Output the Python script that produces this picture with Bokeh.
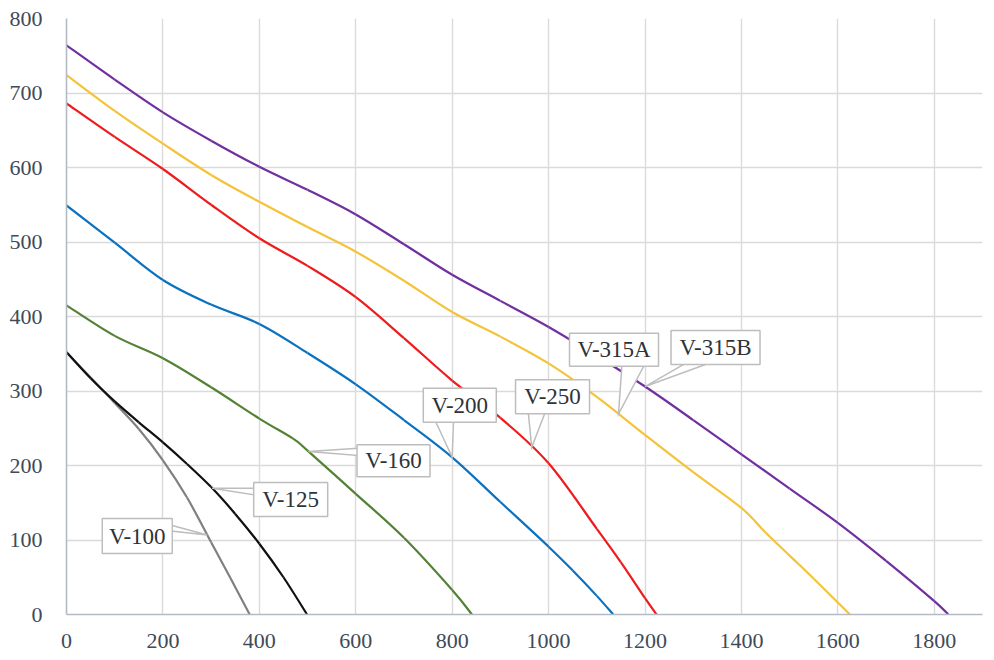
import numpy as np
from bokeh.plotting import figure
from bokeh.models import Range1d, FixedTicker
from bokeh.core.properties import value
from bokeh.embed import file_html
from bokeh.resources import INLINE

# ---------------- data ----------------
x_ticks = [0, 200, 400, 600, 800, 1000, 1200, 1400, 1600, 1800]
y_ticks = [0, 100, 200, 300, 400, 500, 600, 700, 800]

v100_x = [0, 50, 100, 150, 200, 250, 300, 340, 380]
v100_y = [352, 318, 284, 249, 207, 157, 97, 49, 0]

v125_x = [0, 50, 100, 150, 200, 250, 300, 350, 400, 450, 499]
v125_y = [352, 317, 286, 258, 231, 202, 171, 135, 95, 50, 0]

v160_x = [0, 100, 200, 300, 400, 470, 500, 600, 700, 800, 841]
v160_y = [415, 374, 344, 305, 263, 236, 220, 162, 103, 33, 0]

v200_x = [0, 100, 200, 300, 400, 500, 600, 700, 800, 900, 1000, 1050, 1100, 1134]
v200_y = [549, 499, 449, 416, 390, 351, 309, 261, 211, 151, 91, 59, 25, 0]

v250_x = [0, 100, 200, 300, 400, 500, 600, 700, 800, 900, 1000, 1100, 1150, 1200, 1224]
v250_y = [686, 641, 598, 550, 505, 468, 426, 371, 314, 264, 203, 115, 70, 22, 0]

v315a_x = [0, 100, 200, 300, 400, 500, 600, 700, 800, 900, 1000, 1100, 1200, 1300, 1400, 1450, 1500, 1550, 1600, 1625]
v315a_y = [724, 676, 632, 590, 554, 520, 487, 448, 406, 373, 337, 292, 241, 191, 143, 110, 79, 48, 16, 0]

v315b_x = [0, 100, 200, 300, 400, 500, 600, 700, 800, 900, 1000, 1100, 1200, 1300, 1400, 1500, 1600, 1700, 1800, 1829]
v315b_y = [764, 718, 674, 636, 601, 570, 537, 497, 456, 421, 386, 347, 306, 261, 215, 169, 123, 72, 18, 0]

names = ["V-100", "V-125", "V-160", "V-200", "V-250", "V-315A", "V-315B"]
series_x = [v100_x, v125_x, v160_x, v200_x, v250_x, v315a_x, v315b_x]
series_y = [v100_y, v125_y, v160_y, v200_y, v250_y, v315a_y, v315b_y]
colors = ["#808080", "#111111", "#548235", "#0b72c1", "#ee1c1c", "#f4c33a", "#7030a0"]

# callout tip position (x on curve) per series
callout_x = [292, 302, 502, 800, 965, 1145, 1200]

# ---------------- layout (screen px) ----------------
BL, BR, BT, BB = 66, 4, 18, 44
PW, PH = 916, 596
W, H = BL + PW + BR, BT + PH + BB
X0, X1, Y0, Y1 = 0, 1900, 0, 800
box_off = [(-70, -1), (78.6, -11.4), (85, -9.2), (7.6, 52), (20.8, 50.5), (-4.5, 64.2), (70.5, 39)]
box_size = [(70, 35), (74, 34), (73, 32), (73, 34), (74, 34), (89, 33), (89, 34)]
base_pts = [
    [(34, 10.8), (34, 5)],
    [(-36, 11.4), (-36, 4.7)],
    [(-35.5, 12.5), (-35.5, 5.2)],
    [(-24.3, -16), (-6.3, -16)],
    [(-24.2, -16), (-7.5, -16)],
    [(7.9, -15.5), (30.2, -15.5)],
    [(-30.5, -16), (-7.2, -16)],
]

p = figure(width=W, height=H, x_range=Range1d(X0, X1), y_range=Range1d(Y0, Y1),
           output_backend="svg", toolbar_location=None,
           min_border_left=BL, min_border_right=BR, min_border_top=BT, min_border_bottom=BB)
p.outline_line_color = None
p.background_fill_color = "white"
p.border_fill_color = "white"

p.xaxis.ticker = FixedTicker(ticks=x_ticks)
p.yaxis.ticker = FixedTicker(ticks=y_ticks)
p.xgrid.ticker = FixedTicker(ticks=x_ticks)
p.ygrid.ticker = FixedTicker(ticks=y_ticks)
for g in (p.xgrid, p.ygrid):
    g.grid_line_color = "#dadada"
    g.grid_line_width = 1.4

for ax in (p.xaxis, p.yaxis):
    ax.axis_line_color = "#b3bac5"
    ax.axis_line_width = 1.6
    ax.major_tick_line_color = None
    ax.minor_tick_line_color = None
    ax.major_tick_out = 0
    ax.major_tick_in = 0
    ax.minor_tick_out = 0
    ax.minor_tick_in = 0
    ax.major_label_text_font = "Liberation Serif"
    ax.major_label_text_font_size = "22px"
    ax.major_label_text_color = "#404a58"
p.xaxis.major_label_standoff = 19
p.yaxis.major_label_standoff = 24


def smooth_segments(xs, ys):
    """Cubic Bezier control points (Catmull-Rom style smoothing, like a smoothed line)."""
    P = np.column_stack([xs, ys]).astype(float)
    n = len(P)
    out = {k: [] for k in ("x0", "y0", "x1", "y1", "cx0", "cy0", "cx1", "cy1")}
    for i in range(n - 1):
        pm = P[i - 1] if i > 0 else P[i]
        pp = P[i + 2] if i + 2 < n else P[i + 1]
        c0 = P[i] + (P[i + 1] - pm) / 6.0
        c1 = P[i + 1] - (pp - P[i]) / 6.0
        out["x0"].append(P[i][0]); out["y0"].append(P[i][1])
        out["x1"].append(P[i + 1][0]); out["y1"].append(P[i + 1][1])
        out["cx0"].append(c0[0]); out["cy0"].append(c0[1])
        out["cx1"].append(c1[0]); out["cy1"].append(c1[1])
    return out


for xs, ys, c in zip(series_x, series_y, colors):
    seg = smooth_segments(xs, ys)
    p.bezier(x0=seg["x0"], y0=seg["y0"], x1=seg["x1"], y1=seg["y1"],
             cx0=seg["cx0"], cy0=seg["cy0"], cx1=seg["cx1"], cy1=seg["cy1"],
             line_color=c, line_width=2.2)

sx = (X1 - X0) / PW
sy = (Y1 - Y0) / PH

for i, name in enumerate(names):
    tx = callout_x[i]
    ty = float(np.interp(tx, series_x[i], series_y[i]))
    cx = tx + box_off[i][0] * sx
    cy = ty + box_off[i][1] * sy
    (b1x, b1y), (b2x, b2y) = base_pts[i]
    px = [cx + b1x * sx, tx, cx + b2x * sx]
    py = [cy + b1y * sy, ty, cy + b2y * sy]
    p.patch(px, py, fill_color="white", line_color="#bdbdbd", line_width=1.5, line_join="miter")
    p.rect(x=[cx], y=[cy], width=box_size[i][0], height=box_size[i][1],
           width_units="screen", height_units="screen",
           fill_color="white", line_color="#bdbdbd", line_width=1.5)
    p.text(x=[cx], y=[cy], text=[name], text_align="center", text_baseline="middle",
           text_font=value("Liberation Serif"), text_font_size="23px", text_color="#2f3338")

open("out.html", "w").write(file_html(p, INLINE))
